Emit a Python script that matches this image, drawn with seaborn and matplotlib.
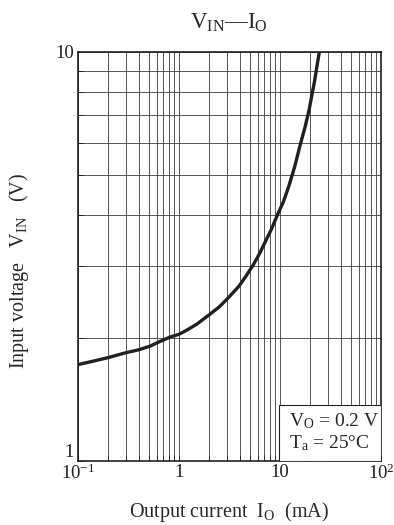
import pandas as pd
import matplotlib
matplotlib.use("Agg")
import matplotlib.pyplot as plt
import seaborn as sns
from matplotlib.patches import Rectangle
from matplotlib.ticker import FixedLocator, LogLocator, NullFormatter

# curve (log-log)
current_ma = [0.1, 0.15, 0.2, 0.3, 0.4, 0.52, 0.65, 0.82, 1.0, 1.2, 1.5, 2.05, 2.5, 3.0, 3.9,
              4.6, 5.5, 6.3, 7.0, 8.2, 9.4, 10.8, 12.2, 14.0, 16.0, 17.7, 19.4, 22.0, 24.5]
input_v = [1.72, 1.76, 1.79, 1.84, 1.87, 1.91, 1.96, 2.01, 2.04, 2.09, 2.16, 2.29, 2.38, 2.49, 2.67,
           2.83, 3.03, 3.22, 3.40, 3.68, 3.99, 4.30, 4.69, 5.25, 5.98, 6.55, 7.21, 8.50, 10.0]

x_ticks = [0.1, 1, 10, 100]
x_labels = [r"$10^{-1}$", "1", "10", r"$10^{2}$"]
y_ticks = [1, 10]
y_labels = ["1", "10"]

sns.set_style("ticks")
plt.rcParams['font.family'] = ['Liberation Serif', 'DejaVu Serif']
plt.rcParams['mathtext.fontset'] = 'custom'
plt.rcParams['mathtext.rm'] = 'Liberation Serif'
plt.rcParams['mathtext.it'] = 'Liberation Serif:italic'
plt.rcParams['mathtext.bf'] = 'Liberation Serif:bold'

df = pd.DataFrame({'I_O': current_ma, 'V_IN': input_v})

fig = plt.figure(figsize=(3.94, 5.25), dpi=100)
ax = fig.add_axes([0.198, 0.122, 0.769, 0.779])

sns.lineplot(data=df, x='I_O', y='V_IN', ax=ax, color='#231f20', linewidth=2.4, zorder=5)

ax.set_xscale('log')
ax.set_yscale('log')
ax.set_xlim(0.1, 100)
ax.set_ylim(1, 10)

ax.xaxis.set_major_locator(FixedLocator(x_ticks))
ax.set_xticklabels(x_labels)
ax.yaxis.set_major_locator(FixedLocator(y_ticks))
ax.set_yticklabels(y_labels)
ax.xaxis.set_minor_locator(LogLocator(base=10, subs=range(2, 10)))
ax.yaxis.set_minor_locator(LogLocator(base=10, subs=range(2, 10)))
ax.xaxis.set_minor_formatter(NullFormatter())
ax.yaxis.set_minor_formatter(NullFormatter())

ax.grid(True, which='both', color='#3a3a3a', linewidth=0.6)
ax.set_axisbelow(True)
ax.tick_params(which='both', direction='in', labelsize=13.5, colors='#231f20', width=0.6, length=4)
ax.tick_params(axis='x', pad=2)
ax.tick_params(axis='y', pad=3)
ax.get_yticklabels()[0].set_va('bottom')
for sp in ax.spines.values():
    sp.set_linewidth(1.2)
    sp.set_color('#231f20')
    sp.set_visible(True)

ax.set_xlabel(r"Output current  I$_{\mathrm{O}}$  (mA)", fontsize=14.5, va='baseline')
ax.xaxis.set_label_coords(0.5, -0.138)
ax.set_ylabel(r"Input voltage   V$_{\mathrm{IN}}$   (V)", fontsize=14.5, va='center')
ax.yaxis.set_label_coords(-0.195, 0.465)
fig.text(0.58, 1 - 23 / 525, r"V$_{\mathrm{IN}}$—I$_{\mathrm{O}}$", fontsize=16.5,
         ha='center', va='center')

# condition box in the lower right corner
ax.add_patch(Rectangle((0.665, 0.0), 0.335, 0.137, transform=ax.transAxes,
                       facecolor='white', edgecolor='#231f20', linewidth=0.8, zorder=3))
ax.text(0.695, 0.098, "V$_{\\mathrm{O}}$ = 0.2 V", transform=ax.transAxes,
        ha='left', va='center', fontsize=14, zorder=4)
ax.text(0.695, 0.044, "T$_{\\mathrm{a}}$ = 25°C", transform=ax.transAxes,
        ha='left', va='center', fontsize=14, zorder=4)

plt.savefig('out.png', dpi=100)
